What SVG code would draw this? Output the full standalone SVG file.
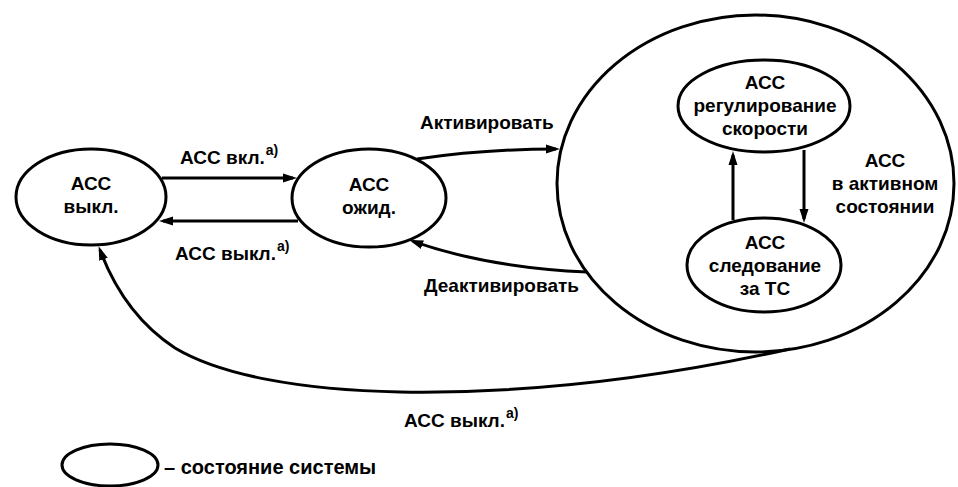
<svg xmlns="http://www.w3.org/2000/svg" width="958" height="487" viewBox="0 0 958 487">
<style>
.st{fill:none;stroke:#000;stroke-width:3}
.ln{fill:none;stroke:#000;stroke-width:3;marker-end:url(#ah)}
text{font-family:"Liberation Sans",Arial,sans-serif;font-weight:bold;font-size:19px;fill:#000}
.c{text-anchor:middle}
.sup{font-size:14px}
</style>
<defs>
<marker id="ah" markerUnits="userSpaceOnUse" markerWidth="14" markerHeight="10" viewBox="0 0 14 10" refX="10" refY="5" orient="auto">
<path d="M0,0.5 L14,5 L0,9.5 z" fill="#000"/>
</marker>
</defs>
<rect width="958" height="487" fill="#fff"/>
<g id="connectors">
<path class="ln" d="M162,178 L293,178"/>
<path class="ln" d="M298,221 L163,221"/>
<path class="ln" d="M417,159 Q485,149 556,149"/>
<path class="ln" d="M587,272 Q490,268 413,241.4"/>
<path class="ln" d="M733,220 L733,155"/>
<path class="ln" d="M804,150 L804,219"/>
<path class="ln" d="M790,349 C650,380 520,394 400,392 C300,390 220,375 175,348 C140,325 115,290 100,250"/>
</g>
<g id="labels">
<text x="180" y="164">АСС вкл.<tspan class="sup" dx="1" dy="-9">а)</tspan></text>
<text x="175" y="260">АСС выкл.<tspan class="sup" dx="1" dy="-9">а)</tspan></text>
<text x="420" y="129">Активировать</text>
<text x="424" y="292">Деактивировать</text>
<text x="404" y="427">АСС выкл.<tspan class="sup" dx="1" dy="-9">а)</tspan></text>
</g>
<g id="node-off">
<ellipse class="st" cx="91" cy="197" rx="75" ry="48"/>
<text class="c" x="91" y="190">АСС</text>
<text class="c" x="91" y="213">выкл.</text>
</g>
<g id="node-wait">
<ellipse class="st" cx="369" cy="198" rx="77" ry="49"/>
<text class="c" x="369" y="191">АСС</text>
<text class="c" x="369" y="214">ожид.</text>
</g>
<g id="node-active">
<ellipse class="st" cx="755.5" cy="183.5" rx="198.5" ry="168.5"/>
<text class="c" x="885" y="167">АСС</text>
<text class="c" x="885" y="190">в активном</text>
<text class="c" x="885" y="213">состоянии</text>
</g>
<g id="node-speed">
<ellipse class="st" cx="764" cy="106" rx="86" ry="46"/>
<text class="c" x="765" y="89">АСС</text>
<text class="c" x="765" y="112">регулирование</text>
<text class="c" x="765" y="135">скорости</text>
</g>
<g id="node-follow">
<ellipse class="st" cx="764" cy="265" rx="77" ry="47"/>
<text class="c" x="765" y="249">АСС</text>
<text class="c" x="765" y="272">следование</text>
<text class="c" x="765" y="295">за ТС</text>
</g>
<g id="legend">
<ellipse class="st" cx="110" cy="465" rx="48" ry="21"/>
<text x="164" y="474" style="font-size:20px">– состояние системы</text>
</g>
</svg>
